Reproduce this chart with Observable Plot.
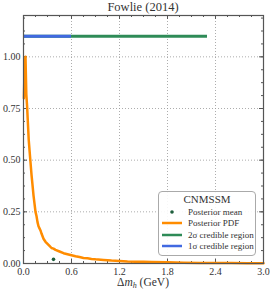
<!DOCTYPE html>
<html><head><meta charset="utf-8">
<script src="https://cdn.jsdelivr.net/npm/d3@7"></script>
<script src="https://cdn.jsdelivr.net/npm/@observablehq/plot@0.6"></script>
<style>
body{margin:0;background:#fff;}
#wrap{position:relative;width:274px;height:293px;font-family:"Liberation Serif","DejaVu Serif",serif;color:#333;}
#title{position:absolute;left:23px;width:240px;top:0px;text-align:center;font-size:12.5px;line-height:14px;}
#xlabel{position:absolute;left:23px;width:240px;top:276px;text-align:center;font-size:11.5px;line-height:13px;}
#legend{position:absolute;left:158px;top:191px;width:96px;height:63px;border:1px solid #aaa;border-radius:4px;background:rgba(255,255,255,0.9);font-size:9px;}
#legend .t{text-align:center;font-size:11px;margin-top:1px;line-height:13px;}
#legend .r{display:flex;align-items:center;height:11.5px;}
#legend svg{margin-left:3px;margin-right:6px;}
svg text{font-family:"Liberation Serif","DejaVu Serif",serif;}
</style></head>
<body><div id="wrap"><div id="title"></div><div id="xlabel"></div><div id="legend"></div></div>
<script>
const titleText = "Fowlie (2014)";
const legendTitle = "CNMSSM";
const pdfX = [0.005,0.015,0.025,0.035,0.045,0.055,0.065,0.075,0.0875,0.1,0.1125,0.125,0.1375,0.15,0.1625,0.175,0.1875,0.2,0.2125,0.225,0.25,0.275,0.3,0.325,0.35,0.375,0.4,0.45,0.5,0.55,0.6,0.65,0.7,0.75,0.8,0.85,0.9,1.0,1.1,1.2,1.3,1.4,1.5,1.6,1.8,2.0,2.2,2.4,2.6,2.8,3.0];
const pdfY = [0.80,0.97,1.00,0.82,0.76,0.68,0.60,0.55,0.49,0.43,0.38,0.33,0.29,0.25,0.23,0.20,0.18,0.17,0.16,0.145,0.12,0.105,0.095,0.085,0.075,0.072,0.066,0.058,0.05,0.045,0.04,0.035,0.031,0.027,0.025,0.022,0.02,0.017,0.014,0.012,0.010,0.009,0.008,0.007,0.0055,0.004,0.003,0.0025,0.002,0.0015,0.001];
const meanX = [0.375], meanY = [0.02];
const regionLevel = 1.1;
const twoSigma = [0, 2.3];
const oneSigma = [0, 0.6];
const xTicks = [0, 0.6, 1.2, 1.8, 2.4, 3.0];
const yTicks = [0, 0.25, 0.5, 0.75, 1.0];
const xMinor = d3.range(0, 3.0001, 0.15);
const yMinor = d3.range(0, 1.2001, 0.0625);
const legendLabels = ["Posterior mean","Posterior PDF","2\u03c3 credible region","1\u03c3 credible region"];
const colors = {pdf:"#ff8c00", two:"#2e8b57", one:"#4169e1", mean:"#1e5e3c"};

const pdf = pdfX.map((x,i)=>({x, y: pdfY[i]}));
const W=274,H=293,mt=15,mb=30,ml=23,mr=11;
const ih = H-mt-mb, iw = W-ml-mr;

const plot = Plot.plot({
  width: W, height: H, marginTop: mt, marginBottom: mb, marginLeft: ml, marginRight: mr,
  style: {fontFamily: "'Liberation Serif', 'DejaVu Serif', serif", fontSize: "10px", color: "#333", background:"transparent"},
  x: {domain: [0, 3], label: null},
  y: {domain: [0, 1.2], label: null},
  marks: [
    Plot.gridX(xTicks, {stroke: "#999", strokeOpacity: 0.8, strokeDasharray: "1,2"}),
    Plot.gridY(yTicks, {stroke: "#999", strokeOpacity: 0.8, strokeDasharray: "1,2"}),
    Plot.axisX(xTicks, {tickSize: 0, tickPadding: 4, tickFormat: d3.format(".1f"), fontSize: 10}),
    Plot.axisY(yTicks, {tickSize: 0, tickPadding: 3, tickFormat: d3.format(".2f"), fontSize: 10}),
    Plot.tickX(xTicks, {x: d=>d, insetTop: ih-4, stroke:"#555"}),
    Plot.tickX(xTicks, {x: d=>d, insetBottom: ih-4, stroke:"#555"}),
    Plot.tickX(xMinor, {x: d=>d, insetTop: ih-2, stroke:"#555"}),
    Plot.tickX(xMinor, {x: d=>d, insetBottom: ih-2, stroke:"#555"}),
    Plot.tickY(yTicks, {y: d=>d, insetRight: iw-4, stroke:"#555"}),
    Plot.tickY(yTicks, {y: d=>d, insetLeft: iw-4, stroke:"#555"}),
    Plot.tickY(yMinor, {y: d=>d, insetRight: iw-2, stroke:"#555"}),
    Plot.tickY(yMinor, {y: d=>d, insetLeft: iw-2, stroke:"#555"}),
    Plot.ruleY([regionLevel], {x1: twoSigma[0], x2: twoSigma[1], stroke: colors.two, strokeWidth: 3}),
    Plot.ruleY([regionLevel], {x1: oneSigma[0], x2: oneSigma[1], stroke: colors.one, strokeWidth: 3}),
    Plot.line(pdf, {x: "x", y: "y", stroke: colors.pdf, strokeWidth: 2.5, strokeLinejoin:"round"}),
    Plot.dot(meanX.map((x,i)=>({x, y: meanY[i]})), {x:"x", y:"y", r: 1.8, fill: colors.mean, stroke: null}),
    Plot.frame({stroke: "#555", strokeWidth: 1.2})
  ]
});
const wrap = document.getElementById("wrap");
wrap.insertBefore(plot, wrap.firstChild);
plot.style.position="absolute"; plot.style.left="0"; plot.style.top="0";
document.getElementById("title").textContent = titleText;
document.getElementById("xlabel").innerHTML = "\u0394<i>m</i><i style='font-size:8px;position:relative;top:2px'>h</i> (GeV)";
const leg = document.getElementById("legend");
let html = `<div class="t">${legendTitle}</div>`;
const handles = [
  `<svg width="20" height="6"><circle cx="10" cy="3" r="1.8" fill="${colors.mean}"/></svg>`,
  `<svg width="20" height="6"><line x1="0" x2="20" y1="3" y2="3" stroke="${colors.pdf}" stroke-width="2.5"/></svg>`,
  `<svg width="20" height="6"><line x1="0" x2="20" y1="3" y2="3" stroke="${colors.two}" stroke-width="2.5"/></svg>`,
  `<svg width="20" height="6"><line x1="0" x2="20" y1="3" y2="3" stroke="${colors.one}" stroke-width="2.5"/></svg>`
];
legendLabels.forEach((l,i)=>{ html += `<div class="r">${handles[i]}<span>${l}</span></div>`; });
leg.innerHTML = html;
</script></body></html>
